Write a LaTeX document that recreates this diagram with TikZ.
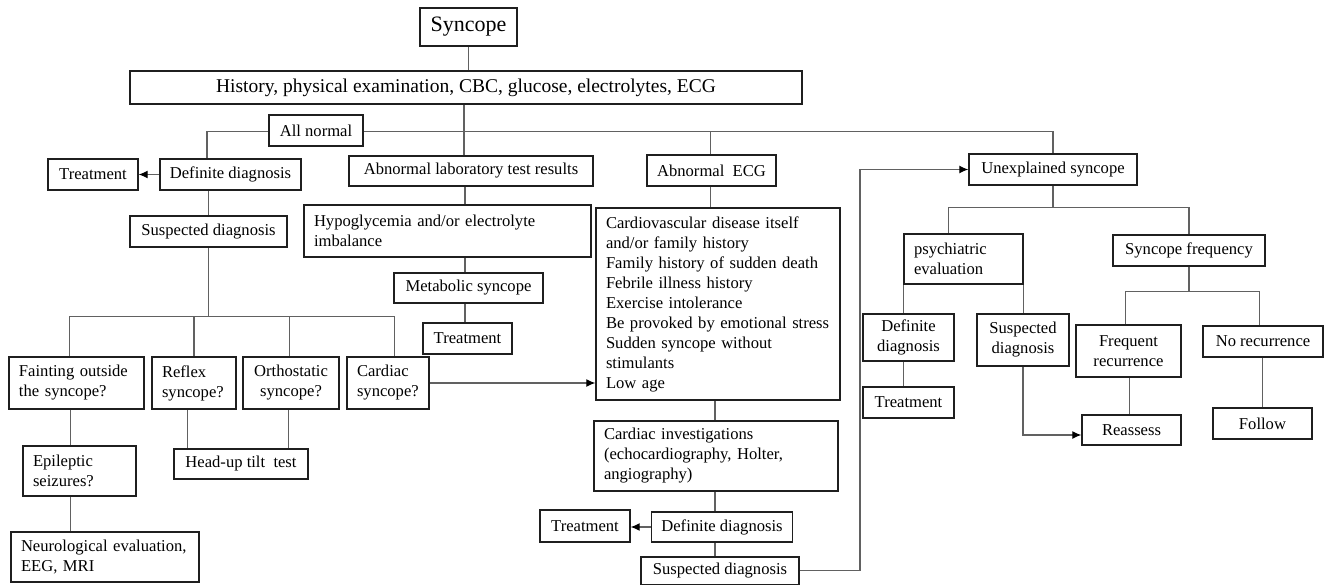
\documentclass[tikz,border=0pt]{standalone}
\usepackage{fontspec}
\setmainfont{Liberation Serif}
\usetikzlibrary{arrows.meta}
\pgfdeclarelayer{bg}
\pgfsetlayers{bg,main}
\tikzset{
 bx/.style={draw=black!88, line width=1.4pt, fill=white, inner xsep=10pt, inner ysep=1pt, font=\fontsize{16.6}{20}\selectfont},
 lt/.style={align=left, text width=\bxtw pt},
 ct/.style={align=center},
 conn/.style={draw=black!62, line width=1.1pt},
 arr/.style={conn, -{Latex[length=9pt,width=8pt,color=black]}},
}
\newcommand\mkbox[7][]{%
 \pgfmathsetmacro\bxw{#5-#3}%
 \pgfmathsetmacro\bxh{#6-#4}%
 \pgfmathsetmacro\bxtw{#5-#3-20}%
 \pgfmathsetmacro\bxcx{(#3+#5)/2}%
 \pgfmathsetmacro\bxcy{(#4+#6)/2}%
 \node[bx, minimum width=\bxw pt, minimum height=\bxh pt, #1] (#2) at (\bxcx,\bxcy) {#7};}
\begin{document}
\begin{tikzpicture}[x=1pt,y=-1pt]
\useasboundingbox (0,0) rectangle (1326,586);
% nodes
\mkbox[font=\fontsize{22}{26}\selectfont]{syn}{420}{8}{517}{46}{Syncope}
\mkbox[font=\fontsize{19.5}{23}\selectfont]{hist}{130}{71}{802}{104}{History, physical examination, CBC, glucose, electrolytes, ECG}
\mkbox{alln}{269}{115}{363}{146}{All normal}
\mkbox{defl}{162}{159}{299}{190}{Definite diagnosis}
\mkbox{treat1}{48}{159}{138}{190}{Treatment}
\mkbox{abnlab}{349}{156}{593}{186}{Abnormal laboratory test results}
\mkbox{abnecg}{652}{155}{771}{186}{Abnormal\ \ ECG}
\mkbox{unex}{969}{154}{1137}{185}{Unexplained syncope}
\mkbox{susl}{130}{216}{287}{247}{Suspected diagnosis}
\mkbox[lt]{faint}{9}{357}{144}{409}{Fainting outside\\the syncope?}
\mkbox[lt]{reflex}{152}{357}{236}{409}{Reflex\\syncope?}
\mkbox[ct]{ortho}{243}{357}{339}{409}{Orthostatic\\syncope?}
\mkbox[lt]{cardiac}{347}{357}{429}{409}{Cardiac\\syncope?}
\mkbox[lt]{epil}{23}{446}{136}{496}{Epileptic\\seizures?}
\mkbox[lt]{neuro}{11}{532}{199}{582}{Neurological evaluation,\\EEG, MRI}
\mkbox{head}{174}{449}{308}{479}{Head-up tilt\ \ test}
\mkbox[lt]{hypo}{304}{205}{591}{257}{Hypoglycemia and/or electrolyte\\imbalance}
\mkbox{metab}{394}{273}{543}{303}{Metabolic syncope}
\mkbox{treat2}{423}{323}{512}{354}{Treatment}
\mkbox[lt]{cardio}{596}{208}{840}{400}{Cardiovascular disease itself\\and/or family history\\Family history of sudden death\\Febrile illness history\\Exercise intolerance\\Be provoked by emotional stress\\Sudden syncope without\\stimulants\\Low age}
\mkbox[lt]{cinv}{594}{421}{838}{491}{Cardiac investigations\\(echocardiography,\ Holter,\\angiography)}
\mkbox{defm}{654}{512}{790}{542}{Definite diagnosis}
\mkbox{treat3}{540}{510}{630}{542}{Treatment}
\mkbox{susm}{641}{557}{799}{584.5}{Suspected diagnosis}
\mkbox[lt]{psych}{904}{234}{1023}{284}{psychiatric\\evaluation}
\mkbox{sfreq}{1113}{235}{1265}{266}{Syncope frequency}
\mkbox[ct]{defr}{863}{314}{954}{361}{Definite\\diagnosis}
\mkbox{treatr}{863}{387}{954}{418}{Treatment}
\mkbox[ct]{susr}{977}{314}{1069}{366}{Suspected\\diagnosis}
\mkbox[ct]{freq}{1076}{325}{1181}{377}{Frequent\\recurrence}
\mkbox{norec}{1203}{326}{1323}{357}{No recurrence}
\mkbox{reass}{1082}{415}{1181}{445}{Reassess}
\mkbox{follow}{1213}{408}{1312}{439}{Follow}
% helper coordinates
\coordinate (bus1) at (0,131.7);
\coordinate (bus2) at (0,316.7);
\coordinate (bus3) at (0,207.3);
\coordinate (bus4) at (0,291.7);
\coordinate (yR) at (0,435);
\coordinate (xA) at (207,0);
\coordinate (x464) at (464,0);
\coordinate (x465) at (465,0);
\coordinate (x710) at (710.5,0);
\coordinate (x715) at (715,0);
\coordinate (x69) at (69.3,0);
\coordinate (x70) at (70.5,0);
\coordinate (x188) at (187.7,0);
\coordinate (x288) at (288.3,0);
\coordinate (x289) at (289.3,0);
\coordinate (x394) at (394.3,0);
\coordinate (x862) at (860,0);
\coordinate (x948) at (948.3,0);
\coordinate (x1126) at (1125.7,0);
\coordinate (x1129) at (1129.3,0);
\coordinate (x1259) at (1259.3,0);
\coordinate (x1263) at (1262.7,0);
\begin{pgfonlayer}{bg}
\draw[conn] (syn.south) -- (syn.south |- hist.north);
\draw[conn] (hist.south -| x464) -- (abnlab.north -| x464);
\draw[conn] (defl.north -| xA) -- (xA |- bus1) -- (unex.north |- bus1) -- (unex.north);
\draw[conn] (abnecg.north -| x710) -- (x710 |- bus1);
\draw[arr] (defl.west) -- (treat1.east);
\draw[conn] (defl.south -| susl.north) -- (susl.north);
\draw[conn] (susl.south) -- (susl.south |- bus2);
\draw[conn] (faint.north -| x69) -- (x69 |- bus2) -- (x394 |- bus2) -- (cardiac.north -| x394);
\draw[conn] (reflex.north) -- (reflex.north |- bus2);
\draw[conn] (ortho.north -| x289) -- (x289 |- bus2);
\draw[conn] (faint.south -| x70) -- (epil.north -| x70);
\draw[conn] (epil.south -| x70) -- (neuro.north -| x70);
\draw[conn] (reflex.south -| x188) -- (head.north -| x188);
\draw[conn] (ortho.south -| x288) -- (head.north -| x288);
\draw[arr] (cardiac.east) -- (cardiac.east -| cardio.west);
\draw[conn] (abnlab.south -| x465) -- (hypo.north -| x465);
\draw[conn] (hypo.south -| x465) -- (metab.north -| x465);
\draw[conn] (metab.south -| x465) -- (treat2.north -| x465);
\draw[conn] (abnecg.south -| x710) -- (cardio.north -| x710);
\draw[conn] (cardio.south -| x715) -- (cinv.north -| x715);
\draw[conn] (cinv.south -| x715) -- (defm.north -| x715);
\draw[arr] (defm.west) -- (defm.west -| treat3.east);
\draw[conn] (defm.south -| x715) -- (susm.north -| x715);
\draw[arr] (susm.east) -- (susm.east -| x862) -- (x862 |- unex.west) -- (unex.west);
\draw[conn] (unex.south) -- (unex.south |- bus3);
\draw[conn] (psych.north -| x948) -- (x948 |- bus3) -- (sfreq.north |- bus3) -- (sfreq.north);
\draw[conn] (psych.south west) -- (defr.north -| psych.south west);
\draw[conn] (psych.south east) -- (susr.north -| psych.south east);
\draw[conn] (defr.south -| psych.south west) -- (treatr.north -| psych.south west);
\draw[arr] (susr.south) -- (susr.south |- yR) -- (reass.west |- yR);
\draw[conn] (sfreq.south) -- (sfreq.south |- bus4);
\draw[conn] (freq.north -| x1126) -- (x1126 |- bus4) -- (x1259 |- bus4) -- (norec.north -| x1259);
\draw[conn] (freq.south -| x1129) -- (reass.north -| x1129);
\draw[conn] (norec.south -| x1263) -- (follow.north -| x1263);
\end{pgfonlayer}
\end{tikzpicture}
\end{document}
